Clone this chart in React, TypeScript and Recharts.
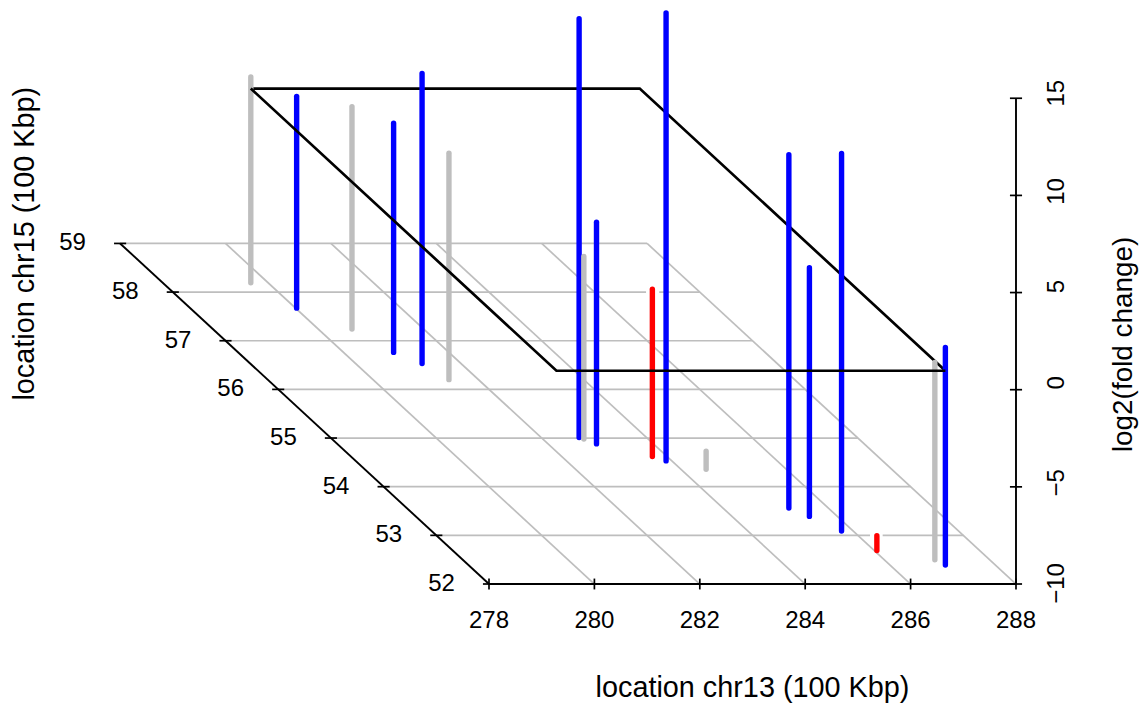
import { Scatter, ScatterChart, XAxis, YAxis } from 'recharts';

// chr13 position, chr15 position and log2 fold change of each stem
const stemChr13 = [279.67, 280.02, 280.64, 280.95, 281.26, 281.44, 282.72, 282.78, 282.92, 283.72, 283.89, 284.48, 285.25, 285.47, 285.78, 286.05, 286.96, 287.05];
const stemChr15 = [58.19, 57.67, 57.24, 56.76, 56.53, 56.2, 55.01, 54.98, 54.88, 54.62, 54.53, 54.36, 53.56, 53.39, 53.09, 52.69, 52.5, 52.39];
const stemFold = [0.6, 0.9, 1.45, 1.8, 4.93, 1.65, 11.56, -0.6, 1.41, -1.39, 13.06, -9.07, 8.19, 2.8, 9.43, -9.24, 0.15, 1.2];
const stemStatus = ['none', 'up', 'none', 'up', 'up', 'none', 'up', 'none', 'up', 'down', 'up', 'none', 'up', 'up', 'up', 'down', 'none', 'up'];

const chr13Ticks = [278, 280, 282, 284, 286, 288];
const chr15Ticks = [52, 53, 54, 55, 56, 57, 58, 59];
const foldTicks = [-10, -5, 0, 5, 10, 15];

// the zero plane spans the stems
const planeChr13 = [279.67, 287.05];
const planeChr15 = [52.39, 58.19];

// R leaves the horizontal grid open around the red stems
const gridGaps: Record<number, number[]> = { 58: [286.98, 287.23], 53: [286.23, 286.47] };

const statusColors: Record<string, string> = { none: '#BEBEBE', up: '#0000FF', down: '#FF0000' };
const GRID = '#BEBEBE';
const FONT = '"Liberation Sans", Arial, sans-serif';
const FLOOR = -10;

// the rotated fold labels are not centred on their ticks
const foldLabelShift: Record<number, number> = { [-10]: -0.5, [-5]: -4, 0: -7, 5: -6, 10: -4, 15: -5 };

// oblique projection used by scatterplot3d
const project = (x: number, y: number, z: number) => ({
  h: x - (y - 52),
  v: z + 2.504 * (y - 52),
});

const NoDot = () => <g />;

const seg = (key: string, pts: number[][], color: string, width: number, round = false) => (
  <Scatter
    key={key}
    data={pts.map(([x, y, z]) => project(x, y, z))}
    line={{ stroke: color, strokeWidth: width, strokeLinecap: round ? 'round' : 'butt' }}
    lineType="joint"
    shape={NoDot}
    isAnimationActive={false}
  />
);

const TextMark = (props: any) => {
  const { cx, cy, payload } = props;
  const x = cx + payload.dx;
  const y = cy + payload.dy;
  return (
    <text
      x={x}
      y={y}
      fontFamily={FONT}
      fontSize={payload.size}
      textAnchor="middle"
      fill="#000"
      transform={payload.rotate ? `rotate(-90 ${x} ${y})` : undefined}
    >
      {payload.text}
    </text>
  );
};

const fmt = (n: number) => (n < 0 ? `\u2212${-n}` : `${n}`);

const labels = [
  ...chr13Ticks.map((t) => ({ ...project(t, 52, FLOOR), text: `${t}`, dx: 0, dy: 44, size: 24, rotate: false })),
  ...chr15Ticks.map((t) => ({ ...project(278, t, FLOOR), text: `${t}`, dx: -47.5, dy: 7, size: 24, rotate: false })),
  ...foldTicks.map((t) => ({ ...project(288, 52, t), text: fmt(t), dx: 48, dy: foldLabelShift[t], size: 24, rotate: true })),
  { ...project(283, 52, FLOOR), text: 'location chr13 (100 Kbp)', dx: 0, dy: 113, size: 28.8, rotate: false },
  { ...project(278, 55.5, FLOOR), text: 'location chr15 (100 Kbp)', dx: -271, dy: -170, size: 28.8, rotate: true },
  { ...project(288, 52, 2), text: 'log2(fold change)', dx: 116, dy: -6.5, size: 27.9, rotate: true },
];

export default function App() {
  const [x0, x1] = planeChr13;
  const [y0, y1] = planeChr15;
  return (
    <div style={{ position: 'absolute', left: 0, top: 0 }}>
      <ScatterChart width={1141} height={704} margin={{ top: 0, right: 0, bottom: 0, left: 0 }}>
        <XAxis type="number" dataKey="h" domain={[268.721, 290.372]} allowDataOverflow hide />
        <YAxis type="number" dataKey="v" domain={[-16.176, 20.057]} allowDataOverflow hide />

        {/* floor grid */}
        {chr15Ticks.slice(1).flatMap((t) => {
          const gap = gridGaps[t];
          if (!gap) return [seg(`hg${t}`, [[278, t, FLOOR], [288, t, FLOOR]], GRID, 1.7)];
          return [
            seg(`hg${t}a`, [[278, t, FLOOR], [gap[0], t, FLOOR]], GRID, 1.7),
            seg(`hg${t}b`, [[gap[1], t, FLOOR], [288, t, FLOOR]], GRID, 1.7),
          ];
        })}
        {chr13Ticks.slice(1).map((t) => seg(`dg${t}`, [[t, 52, FLOOR], [t, 59, FLOOR]], GRID, 1.7))}

        {/* back edges of the plane */}
        {seg('planeBack', [[x0, y1, 0], [x1, y1, 0], [x1, y0, 0]], '#000', 2.7)}

        {stemFold.map((z, i) =>
          seg(`stem${i}`, [[stemChr13[i], stemChr15[i], FLOOR], [stemChr13[i], stemChr15[i], z]], statusColors[stemStatus[i]], 5.4, true),
        )}

        {/* front edges of the plane */}
        {seg('planeFront', [[x0, y1, 0], [x0, y0, 0], [x1, y0, 0]], '#000', 2.7)}

        {/* box axes and ticks */}
        {seg('axisX', [[278, 52, FLOOR], [288, 52, FLOOR]], '#000', 1.9)}
        {seg('axisY', [[278, 52, FLOOR], [278, 59, FLOOR]], '#000', 1.9)}
        {seg('axisZ', [[288, 52, FLOOR], [288, 52, 15]], '#000', 1.9)}
        {chr13Ticks.map((t) => seg(`tx${t}`, [[t, 52, FLOOR - 0.28], [t, 52, FLOOR + 0.28]], '#000', 1.7))}
        {chr15Ticks.map((t) => seg(`ty${t}`, [[278 - 0.115, t, FLOOR], [278 + 0.115, t, FLOOR]], '#000', 1.7))}
        {foldTicks.map((t) => seg(`tz${t}`, [[288 - 0.115, 52, t], [288 + 0.115, 52, t]], '#000', 1.7))}

        <Scatter data={labels} shape={TextMark} isAnimationActive={false} />
      </ScatterChart>
    </div>
  );
}
